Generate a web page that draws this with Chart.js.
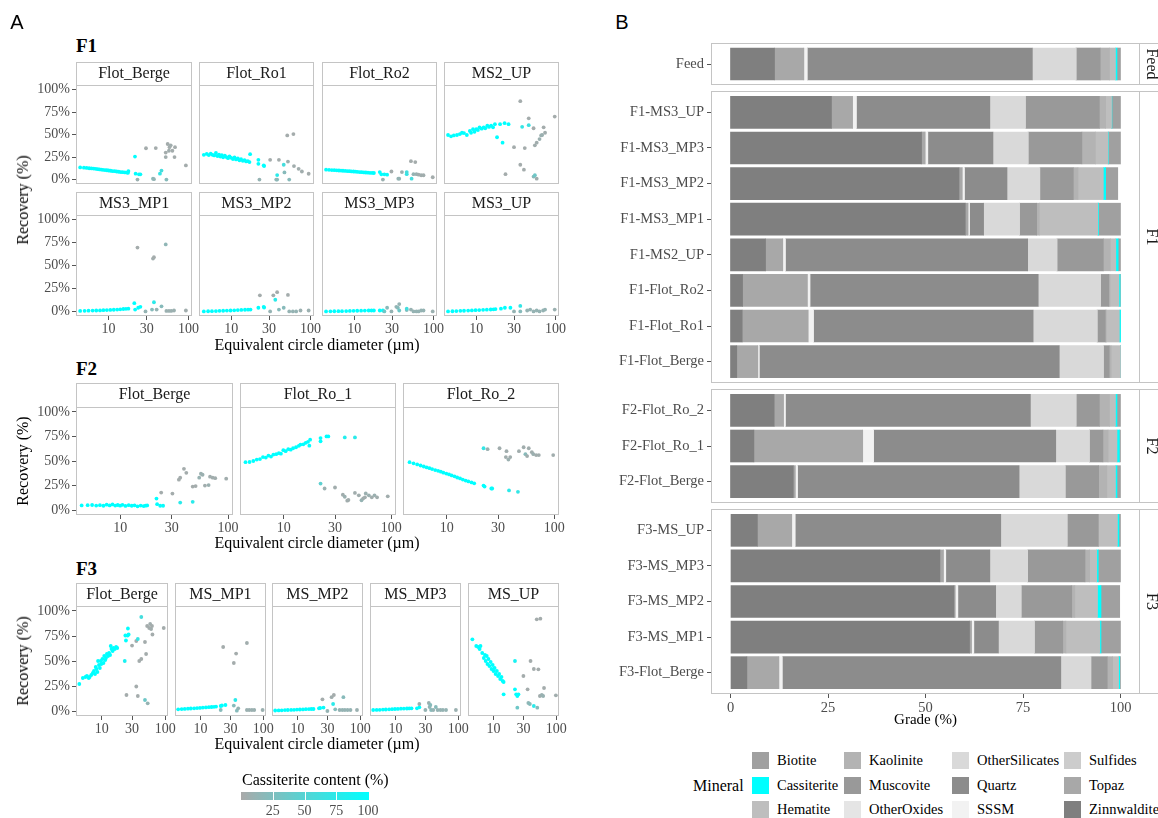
<!DOCTYPE html>
<html>
<head>
<meta charset="utf-8">
<script src="https://cdn.jsdelivr.net/npm/chart.js@4.4.1/dist/chart.umd.min.js"></script>
<style>
  body { margin: 0; background: #fff; width: 1158px; height: 818px; position: relative; overflow: hidden;
         font-family: 'Liberation Serif', 'Times New Roman', serif; }
  canvas { position: absolute; }
  .t { position: absolute; white-space: nowrap; line-height: 1; transform: translate(-50%, -50%); }
  .l { position: absolute; white-space: nowrap; line-height: 1; transform: translateY(-50%); }
  .sw { position: absolute; width: 17px; height: 17px; }
</style>
</head>
<body>
<script>
// ---- panel A data: [diameter um, recovery %, cassiterite content %] ----
var sizeTicks = [10, 30, 100];
var recoveryTicks = [0, 25, 50, 75, 100];
var contentTicks = [25, 50, 75, 100];

var f1FlotBerge = [[4.4,13.5,100],[4.9,13.2,100],[5.3,13,100],[5.7,12.6,100],[6.1,12.4,100],[6.5,12.2,100],[6.9,11.9,100],[7.3,11.6,100],[7.7,11.3,100],[8.1,11.1,100],[8.5,10.9,100],[9,10.6,100],[9.5,10.4,100],[10,10.1,100],[10.6,9.8,100],[11.2,9.5,100],[11.9,9.3,100],[12.6,9,100],[13.4,8.7,100],[14.2,8.4,100],[15,8.2,100],[16,8,100],[17,7.8,100],[17.7,9.5,100],[17.5,7.6,100],
  [21.4,25.6,100],[21.8,6.6,100],[24,5.9,95],[25,5.9,95],[23,0,8],[29.4,34.8,3],[39,35,3],[36,1,20],[37,0.5,12],[44,6.6,70],[46,10,60],[52,25,5],[52,30,3],[55,39.5,3],[58,36,3],[60,38,5],[63,32,3],[67,25,3],[68,36,3],[57,32,5],[53,0,20],[93,15.7,3]];
var f1FlotRo1 = [[4.5,27.5,100],[4.9,28.5,100],[5.2,27.2,100],[5.5,28.8,100],[5.8,27.5,100],[6.1,26.8,100],[6.4,29.5,100],[6.7,26.2,100],[7,27.6,100],[7.3,25.5,100],[7.6,27,100],[7.9,24.8,100],[8.3,26.6,100],[8.7,25,100],[9.1,23.8,100],[9.5,25.8,100],[10,24.2,100],[10.5,22.8,100],[11,24.6,100],[11.5,22.4,100],[12.1,23.4,100],[12.7,21.5,100],[13.3,22.6,100],[14,20.8,100],[14.7,21.6,100],[15.4,20.2,100],[16.2,20.6,100],[17,19.4,100],[17.3,28.2,100],
  [22,22,100],[22,17.5,100],[25.7,15.8,100],[26,15,100],[31,22,3],[22.7,0,12],[40,22,3],[38,0,20],[37,0,15],[38,5,75],[46,16.5,60],[51,49,3],[61,50.5,3],[47,8,20],[52,20,8],[54,0,20],[62,15,5],[71,12,5],[78,9,5],[95,6.5,3]];
var f1FlotRo2 = [[4.4,11,100],[4.8,10.8,100],[5.2,10.6,100],[5.6,10.5,100],[6,10.3,100],[6.4,10.1,100],[6.8,10,100],[7.2,9.8,100],[7.7,9.6,100],[8.2,9.5,100],[8.7,9.3,100],[9.2,9.1,100],[9.8,9,100],[10.4,8.8,100],[11,8.6,100],[11.7,8.4,100],[12.4,8.2,100],[13.2,8,100],[14,7.9,100],[14.9,7.7,100],[15.8,7.5,100],[16.8,7.4,100],[17.7,7.3,100],
  [21,8.4,100],[22,5.9,100],[24,5.9,95],[26,5.5,95],[23,0,8],[29.5,9,3],[36,1,12],[37,1,12],[40,8.4,8],[46,6,70],[46,8.4,60],[52,20.5,3],[59,19.4,3],[53,1,60],[56,6,12],[61,6,8],[65,5.5,5],[70,4.8,5],[75,4.8,5],[98,2.6,3]];
var f1Ms2Up = [[4.4,49.5,100],[4.8,48,100],[5.2,49,100],[5.7,49.5,100],[6.2,50.5,100],[6.6,52,100],[7,51.6,100],[7.6,49.5,100],[8.3,54,100],[8.6,52,100],[9.1,56,100],[9.5,53,100],[10,56,100],[10.5,55,100],[11,58,100],[11.7,56.5,100],[12.4,58,100],[13,57,100],[13.8,60,100],[14.5,58.5,100],[15.4,60,100],[16.3,58,100],[17.2,61.5,100],[18.3,47,100],[20,61.5,100],[21.5,41,100],[22.8,62.6,100],[25.6,61.5,100],
  [36,87,3],[38,58.6,70],[30,36,3],[41,35,3],[36,16.5,3],[40,11,3],[23.4,6,3],[46,68,3],[46,60.4,65],[53,57,3],[55,38,5],[58,41,5],[53,3.3,20],[55,4.8,35],[58,1,5],[63,45,8],[66,49,8],[68,49.5,8],[71,58,3],[74,52,5],[98,70,3]];
var f1Ms3Mp1 = [[4.4,0.5,100],[5,0.6,100],[5.6,0.8,100],[6.3,0.9,100],[7,1,100],[7.8,1.1,100],[8.6,1.3,100],[9.5,1.4,100],[10.5,1.6,100],[11.6,1.8,100],[12.8,2,100],[14,2.3,100],[15.3,2.6,100],[16.5,2.8,100],[17.7,3,100],
  [21,9,100],[21.5,2,100],[23.5,4,100],[25,5,100],[23,69.5,3],[36,57.5,5],[37,59,3],[37,10,75],[35,2,20],[29,0,12],[40,2,12],[46,5.5,20],[52,73,15],[53,0.5,8],[57,0.5,8],[61,0.5,8],[66,1,8],[93,1,5]];
var f1Ms3Mp2 = [[4.5,0,100],[5.1,0.2,100],[5.7,0.3,100],[6.4,0.4,100],[7.1,0.6,100],[7.9,0.7,100],[8.8,0.9,100],[9.8,1,100],[10.9,1.2,100],[12.1,1.4,100],[13.4,1.6,100],[14.9,1.8,100],[16.3,1.9,100],[17.5,2,100],
  [22,4,100],[25.7,5,100],[26,4.2,95],[23,17.5,3],[31,0,12],[34,17.5,5],[38,21,3],[36,12.7,75],[40,2,20],[46,4,20],[52,18,3],[54,0,12],[60,0,12],[66,0,12],[75,1,8],[95,1,8]];
var f1Ms3Mp3 = [[4.4,0,100],[5,0.1,100],[5.6,0.2,100],[6.3,0.3,100],[7,0.3,100],[7.9,0.4,100],[8.8,0.5,100],[9.8,0.6,100],[10.9,0.7,100],[12.2,0.8,100],[13.6,0.9,100],[15.2,1,100],[16.5,1,100],[17.7,1,100],
  [21,1,100],[23,1,95],[26,4,20],[24,0,35],[29.5,0,12],[34,5,12],[35.5,4,20],[37,1,35],[37,8,12],[46,1.5,20],[46,3,60],[52,2,10],[56,0,12],[61,0,12],[65,0,12],[70,1,12],[75,1,12],[98,0,8]];
var f1Ms3Up = [[4.4,0,100],[5,0.2,100],[5.6,0.4,100],[6.3,0.6,100],[7,0.7,100],[7.9,0.9,100],[8.8,1.1,100],[9.8,1.3,100],[10.9,1.5,100],[12.2,1.7,100],[13.6,1.9,100],[15.2,2.1,100],[16.5,2.3,100],[17.5,2.5,100],
  [20.5,3,100],[23,4,100],[27,4,100],[30,0,12],[36,6,70],[36,0,20],[44,1,12],[48,2,12],[53,0,12],[58,1,12],[63,0,12],[70,1,12],[74,2,12],[98,2,8]];

var f2FlotBerge = [[4.4,4.8,100],[5,5,100],[5.5,5.2,100],[6,4.6,100],[6.5,5,100],[7,4.4,100],[7.5,5.5,100],[8,4.8,100],[8.5,5.8,100],[9,4.6,100],[9.5,5.2,100],[10,4.5,100],[10.5,5.4,100],[11.2,4.2,100],[12,5,100],[12.8,4.4,100],[13.6,4.9,100],[14.5,3.8,100],[15.5,4.6,100],[16.5,4.1,100],[17.2,4.5,100],[17.8,4.8,100],
  [21.7,11.7,100],[22,6,100],[23.5,4.4,95],[25,4.4,95],[24,17.8,3],[30.5,16.8,3],[36,33,3],[35,31,3],[39,42,3],[41,38,3],[36,7.7,75],[47,8.4,75],[47,24,3],[50,24.5,3],[54,33,10],[56,37,8],[58,36,8],[61,25,5],[66,25.5,8],[68,34,5],[72,33,5],[76,32.5,5],[96,32,5]];
var f2FlotRo1 = [[4.4,48.8,100],[4.8,49,100],[5.2,50,100],[5.6,51.5,100],[6,52,100],[6.4,54,100],[6.8,53.5,100],[7.2,55.5,100],[7.6,54.5,100],[8,56.5,100],[8.5,57,100],[9,58,100],[9.4,57.5,100],[9.9,61,100],[10.4,60,100],[11,62,100],[11.6,61.5,100],[12.2,63,100],[13,64,100],[13.8,65.5,100],[14.3,66.7,100],[15.2,67,100],[16,68.5,100],[16.8,69.5,100],[17.6,71.7,100],[17.3,65.6,100],
  [22,73.4,100],[22,70,100],[25,75,100],[26,75,100],[37,74,80],[46,74,75],
  [22,27,45],[24,22,8],[30,23,5],[35.5,15.6,5],[37,13.6,8],[39,9.6,5],[40,10.3,5],[46,17.5,5],[50,15,5],[53,10,12],[55,12,5],[57,13,5],[58,17,8],[62,15,8],[66,13,5],[70,15,8],[74,13,5],[93,14,5]];
var f2FlotRo2 = [[4.5,48.8,100],[4.9,47.6,100],[5.3,46.5,100],[5.7,45.4,100],[6.1,44.4,100],[6.5,43.5,100],[6.9,42.7,100],[7.3,41.8,100],[7.8,40.8,100],[8.3,40,100],[8.8,39.1,100],[9.3,38.1,100],[9.9,37.2,100],[10.5,36.3,100],[11.1,35.3,100],[11.8,34.4,100],[12.5,33.2,100],[13.3,32.3,100],[14.1,31.1,100],[15,30.1,100],[15.9,29.2,100],[17,28.2,100],[18,27.3,100],
  [22,25,100],[22.5,24,100],[26,22,100],[26.5,22,95],[38,20,75],[46,18.6,70],
  [22,63,70],[24,62,8],[31,63,5],[36,60,5],[37.5,51.5,8],[39,54,5],[35.5,54,5],[47,60,5],[52,64,5],[54,57,20],[56,55,5],[58,63,5],[62,59,5],[64,57,8],[68,56,5],[72,56,5],[98,56,5]];

var f3FlotBerge = [[4.4,27,100],[5,33,100],[5.5,34,100],[5.8,35,100],[6.2,33,100],[6.4,34,100],[6.8,36,100],[7.2,38,100],[7.5,40,100],[7.8,37,100],[8,44,100],[8.2,42,100],[8.5,39,100],[8.7,50,100],[9,46,100],[9.3,43,100],[9.6,50,100],[9.8,47,100],[10.2,52,100],[10.6,48,100],[10.9,55,100],[11.3,51,100],[11.6,53,100],[12,57,100],[12.5,55,100],[13,58,100],[13.5,56,100],[13.8,65,100],[14.2,62,100],[14.8,60,100],[15.3,63,100],[16,62,100],[16.8,64,100],[17.5,63,100],
  [25.8,82.5,100],[23.5,75.5,100],[24,70.5,100],[23,50,85],[25.5,75.5,100],[26.5,76.5,100],
  [24.5,16,3],[30,65.4,3],[35,70,5],[37,72,70],[35,24.5,3],[37,15,3],[39,50,3],[42,52,3],[48,69,3],[50,57,3],[42,94,60],[48,11,35],[53,7.7,12],[52,85,3],[56,83,3],[58,87,5],[60,82,5],[62,85,3],[63,76.5,3],[95,83,3]];
var f3MsMp1 = [[4.4,1.7,100],[5,1.9,100],[5.6,2.1,100],[6.3,2.3,100],[7,2.5,100],[7.9,2.7,100],[8.8,2.9,100],[9.8,3.1,100],[10.9,3.4,100],[12.2,3.6,100],[13.6,3.8,100],[15,4,100],[16.4,4.2,100],[17.7,4.4,100],
  [21,5,100],[22,5.5,100],[25,6,100],[21,1,20],[23,64,3],[34,48,3],[37,57.4,3],[36,11,75],[34,5.4,20],[38,0.3,20],[40,2.7,12],[55,68,5],[55,1,8],[60,1,8],[66,1,8],[72,1,8],[98,1,8]];
var f3MsMp2 = [[4.4,0.5,100],[5,0.6,100],[5.6,0.7,100],[6.3,0.9,100],[7,1,100],[7.9,1.1,100],[8.8,1.2,100],[9.8,1.4,100],[10.9,1.5,100],[12.2,1.6,100],[13.6,1.8,100],[15.2,1.9,100],[16.6,2,100],[18,2,100],
  [22,2.7,100],[23,3,100],[26,3.4,95],[25,11.7,3],[30,0,12],[35,13.8,5],[38,16,3],[37,7,75],[40,1.7,20],[54,13.8,20],[47,1,12],[52,1,12],[57,1,12],[63,1,12],[70,1,12],[89,1,8]];
var f3MsMp3 = [[4.4,1,100],[5,1.1,100],[5.6,1.2,100],[6.3,1.4,100],[7,1.5,100],[7.9,1.7,100],[8.8,1.8,100],[9.8,2,100],[10.9,2.1,100],[12.2,2.3,100],[13.6,2.4,100],[15.2,2.5,100],[16.6,2.6,100],[18,2.7,100],
  [22,2.7,100],[24,3.7,100],[24,7,8],[30,1,12],[34,8,8],[35,4,12],[36,6,20],[37,1,20],[40,1,12],[44,4,20],[47,1,12],[52,1,12],[57,1,12],[64,1,12],[92,1,8]];
var f3MsUp = [[4.6,71.7,100],[5.3,65,100],[5.7,64,100],[6,62,100],[6.2,65,100],[6.6,58,100],[7,53,100],[7.3,56,100],[7.5,50,100],[7.8,55,100],[8,47,100],[8.3,52,100],[8.6,45,100],[9,49,100],[9.3,42,100],[9.7,46,100],[10,40,100],[10.4,43,100],[10.8,37,100],[11.3,40,100],[11.8,35,100],[12.3,37,100],[12.8,32,100],[13.4,34,100],[14,30,100],[14.5,29,100],[14.5,16.7,100],[22,21.7,100],[23,16.7,100],[24,15,100],[25,16.7,100],
  [22,50,85],[24,3.3,35],
  [30,35,3],[36,8,15],[38,7,20],[35,21.7,3],[39,50,3],[44,42,3],[44,5,75],[50,3.3,20],[52,41.7,3],[49,91.7,3],[56,92.3,3],[55,15,5],[59,16,8],[62,15,10],[64,23,3],[99,15.7,5]];

// ---- panel B data: grade (%) per sample ----
var samples = ['Feed', 'F1-MS3_UP', 'F1-MS3_MP3', 'F1-MS3_MP2', 'F1-MS3_MP1', 'F1-MS2_UP', 'F1-Flot_Ro2', 'F1-Flot_Ro1', 'F1-Flot_Berge',
  'F2-Flot_Ro_2', 'F2-Flot_Ro_1', 'F2-Flot_Berge', 'F3-MS_UP', 'F3-MS_MP3', 'F3-MS_MP2', 'F3-MS_MP1', 'F3-Flot_Berge'];
var gradeTicks = [0, 25, 50, 75, 100];
var zinnwaldite    = [11.3, 25.9, 49.0, 58.6, 60.2, 9.0, 3.1, 3.0, 1.6, 11.2, 6.0, 16.1, 6.9, 53.7, 57.3, 61.3, 4.2];
var topaz          = [7.5, 5.4, 0.9, 0.8, 0.7, 4.4, 16.6, 16.9, 5.4, 2.4, 27.9, 0.5, 8.8, 0.9, 0.3, 0.5, 8.2];
var sulfides       = [0, 0, 0, 0, 0, 0, 0, 0, 0, 0, 0, 0, 0, 0, 0, 0, 0];
var sssm           = [0.9, 1.0, 0.7, 0.6, 0.4, 0.7, 0.7, 1.4, 0.4, 0.5, 2.8, 0.6, 0.9, 0.6, 0.7, 0.6, 0.9];
var quartz         = [57.7, 34.2, 16.7, 10.9, 3.6, 62.1, 58.5, 56.3, 76.9, 62.8, 46.7, 56.8, 52.7, 11.3, 9.7, 6.3, 71.4];
var otherSilicates = [11.2, 9.1, 9.0, 8.4, 9.2, 7.5, 16.0, 16.4, 11.3, 11.7, 8.6, 11.8, 17.0, 9.7, 6.5, 9.2, 7.7];
var otherOxides    = [0, 0, 0, 0, 0, 0, 0, 0, 0, 0, 0, 0, 0, 0, 0, 0, 0];
var muscovite      = [6.2, 19.0, 13.8, 8.6, 4.4, 11.9, 2.1, 2.1, 1.5, 6.0, 3.5, 8.6, 8.0, 14.7, 13.0, 7.3, 4.2];
var kaolinite      = [2.4, 1.6, 3.5, 1.2, 0.7, 1.8, 0.3, 0.3, 0.5, 2.6, 1.3, 2.1, 0, 1.2, 0.8, 0.8, 1.4];
var hematite       = [1.5, 1.5, 3.2, 6.5, 15.0, 1.4, 2.3, 3.3, 2.4, 1.5, 2.3, 2.2, 4.9, 1.8, 5.8, 8.7, 1.5];
var cassiterite    = [0.4, 0.1, 0.1, 0.6, 0.2, 0.6, 0.3, 0.3, 0, 0.4, 0.6, 0.4, 0.4, 0.4, 0.9, 0.3, 0.3];
var biotite        = [0.9, 2.2, 3.1, 3.1, 5.6, 0.6, 0.1, 0, 0, 0.9, 0.3, 0.9, 0.4, 5.7, 4.8, 5.0, 0.2];

var SERIF = "'Liberation Serif', 'Times New Roman', serif";
var FRAME = '#c4c4c4', TICK = '#555555', TICKTXT = '#4d4d4d';
Chart.defaults.font.family = SERIF;

// legend order (alphabetical); bars stack in reverse of it
var minerals = [
  { name: 'Biotite', color: '#a0a0a0', values: biotite },
  { name: 'Cassiterite', color: '#00ffff', values: cassiterite },
  { name: 'Hematite', color: '#bebebe', values: hematite },
  { name: 'Kaolinite', color: '#b3b3b3', values: kaolinite },
  { name: 'Muscovite', color: '#999999', values: muscovite },
  { name: 'OtherOxides', color: '#e5e5e5', values: otherOxides },
  { name: 'OtherSilicates', color: '#d9d9d9', values: otherSilicates },
  { name: 'Quartz', color: '#8c8c8c', values: quartz },
  { name: 'SSSM', color: '#f2f2f2', values: sssm },
  { name: 'Sulfides', color: '#cccccc', values: sulfides },
  { name: 'Topaz', color: '#a8a8a8', values: topaz },
  { name: 'Zinnwaldite', color: '#7f7f7f', values: zinnwaldite }
];

function contentColor(c) {
  var t = Math.max(0, Math.min(1, c / 100));
  var r = Math.round(169 * (1 - t)), g = Math.round(169 + 86 * t);
  return 'rgb(' + r + ',' + g + ',' + g + ')';
}

function text(str, x, y, css, cls) {
  var d = document.createElement('div');
  d.className = cls || 't';
  d.textContent = str;
  d.style.left = x + 'px';
  d.style.top = y + 'px';
  d.style.cssText += ';' + (css || '');
  document.body.appendChild(d);
  return d;
}

// keep plot areas exactly where we put them (no room for overhanging labels)
function noPad(s) {
  s.paddingLeft = 0; s.paddingRight = 0; s.paddingTop = 0; s.paddingBottom = 0;
}

// panel frame + strip (top strip for A, right strip for B)
var framePlugin = {
  id: 'frame',
  afterDraw: function (chart, args, opts) {
    var a = chart.chartArea, ctx = chart.ctx;
    var l = Math.round(a.left) + 0.5, t = Math.round(a.top) + 0.5;
    var r = Math.round(a.right) - 0.5, b = Math.round(a.bottom) - 0.5;
    ctx.save();
    ctx.strokeStyle = FRAME;
    ctx.lineWidth = 1;
    ctx.strokeRect(l, t, r - l, b - t);
    if (opts.strip === 'top') {
      var sh = chart.titleBlock.height;
      ctx.strokeRect(l, t - sh, r - l, sh);
    } else if (opts.strip === 'right') {
      ctx.strokeRect(r, t, 24, b - t);
      ctx.fillStyle = '#1a1a1a';
      ctx.font = '16px ' + SERIF;
      ctx.textAlign = 'center';
      ctx.textBaseline = 'middle';
      ctx.translate(r + 11.5, (t + b) / 2);
      ctx.rotate(Math.PI / 2);
      ctx.fillText(opts.label, 0, 0);
    }
    ctx.restore();
  }
};

function scatterPanel(p) {
  var yW = p.first ? 60 : 0, padL = p.first ? 0 : 1, padR = 14, xH = p.axis ? 24 : 0;
  var cv = document.createElement('canvas');
  cv.width = p.w + yW + padL + padR;
  cv.height = 1 + p.strip + p.h + (p.axis ? xH : 1);
  cv.style.left = (p.x - yW - padL) + 'px';
  cv.style.top = (p.top - 1) + 'px';
  document.body.appendChild(cv);
  var tickGrid = { drawOnChartArea: false, drawTicks: true, tickLength: 4, color: TICK };
  return new Chart(cv, {
    type: 'scatter',
    data: {
      datasets: [{
        data: p.data.map(function (d) { return { x: d[0], y: d[1], c: d[2] }; }),
        pointRadius: 1.9, pointHoverRadius: 1.9, borderWidth: 0,
        backgroundColor: function (ctx) { return ctx.raw ? contentColor(ctx.raw.c) : '#a9a9a9'; }
      }]
    },
    options: {
      responsive: false, animation: false, devicePixelRatio: 1,
      layout: { padding: { top: 1, left: padL, right: padR, bottom: p.axis ? 0 : 1 } },
      plugins: {
        legend: { display: false }, tooltip: { enabled: false },
        title: { display: true, fullSize: false, text: p.name, color: '#1a1a1a',
          font: { size: 16, lineHeight: 1, weight: 'normal' },
          padding: { top: (p.strip - 16) / 2, bottom: (p.strip - 16) / 2 } },
        frame: { strip: 'top' }
      },
      scales: {
        x: {
          type: 'logarithmic', min: 3.9, max: 111, display: p.axis,
          afterBuildTicks: function (s) { s.ticks = sizeTicks.map(function (v) { return { value: v }; }); },
          afterFit: function (s) { s.height = xH; noPad(s); },
          grid: tickGrid, border: { display: false },
          ticks: { padding: 1, color: TICKTXT, font: { size: 14 }, maxRotation: 0, autoSkip: false,
            callback: function (v) { return String(v); } }
        },
        y: {
          min: -5, max: 105, display: p.first,
          afterBuildTicks: function (s) { s.ticks = recoveryTicks.map(function (v) { return { value: v }; }); },
          afterFit: function (s) { s.width = yW; noPad(s); },
          grid: tickGrid, border: { display: false },
          ticks: { padding: 2, color: TICKTXT, font: { size: 14 }, callback: function (v) { return v + '%'; } }
        }
      }
    },
    plugins: [framePlugin]
  });
}

// ---- panel A layout ----
var groups = [
  { title: 'F1', titleY: 46, xTitleY: 345, recY: 200, names: ['Flot_Berge', 'Flot_Ro1', 'Flot_Ro2', 'MS2_UP', 'MS3_MP1', 'MS3_MP2', 'MS3_MP3', 'MS3_UP'],
    data: [f1FlotBerge, f1FlotRo1, f1FlotRo2, f1Ms2Up, f1Ms3Mp1, f1Ms3Mp2, f1Ms3Mp3, f1Ms3Up],
    xs: [76, 198, 321, 443], w: 116, rows: [{ top: 62, strip: 23, h: 100 }, { top: 192, strip: 23, h: 101 }] },
  { title: 'F2', titleY: 369, xTitleY: 543, recY: 461, names: ['Flot_Berge', 'Flot_Ro_1', 'Flot_Ro_2'],
    data: [f2FlotBerge, f2FlotRo1, f2FlotRo2],
    xs: [76, 239, 402], w: 157, rows: [{ top: 383, strip: 24, h: 108 }] },
  { title: 'F3', titleY: 569, xTitleY: 744, recY: 661, names: ['Flot_Berge', 'MS_MP1', 'MS_MP2', 'MS_MP3', 'MS_UP'],
    data: [f3FlotBerge, f3MsMp1, f3MsMp2, f3MsMp3, f3MsUp],
    xs: [76, 174, 271, 369, 467], w: 92, rows: [{ top: 583, strip: 23, h: 110 }] }
];

groups.forEach(function (g) {
  var nc = g.xs.length;
  g.names.forEach(function (name, i) {
    var row = Math.floor(i / nc), col = i % nc, r = g.rows[row];
    scatterPanel({ name: name, data: g.data[i], x: g.xs[col], w: g.w, top: r.top, strip: r.strip, h: r.h,
      first: col === 0, axis: row === g.rows.length - 1 });
  });
  text(g.title, 76, g.titleY, "font: bold 19px " + SERIF + "; color:#000;", 'l');
  text('Equivalent circle diameter (\u00b5m)', 317, g.xTitleY, 'font-size:16px; color:#000;');
  text('Recovery (%)', 23, g.recY, 'font-size:16px; color:#000; transform: translate(-50%,-50%) rotate(-90deg);');
});

// colour bar legend for panel A
text('Cassiterite content (%)', 242, 780, 'font-size:16px; color:#000;', 'l');
var bar = document.createElement('div');
bar.style.cssText = 'position:absolute; left:241px; top:792px; width:128px; height:8px; background: linear-gradient(to right, #a9a9a9, #00ffff);';
document.body.appendChild(bar);
contentTicks.forEach(function (v) {
  var x = 241 + v * 1.27;
  if (v < 100) {
    var tk = document.createElement('div');
    tk.style.cssText = 'position:absolute; top:792px; height:8px; width:1px; background:#fff; left:' + Math.round(x) + 'px;';
    document.body.appendChild(tk);
  }
  text(String(v), x, 811, 'font-size:14px; color:' + TICKTXT + ';');
});

text('A', 17, 22, "font: 20px 'Liberation Sans', Arial, sans-serif; color:#000;");
text('B', 622, 22, "font: 20px 'Liberation Sans', Arial, sans-serif; color:#000;");

// ---- panel B: stacked grade bars, one chart per facet ----
var facets = [
  { label: 'Feed', from: 0, to: 1, top: 43, h: 42 },
  { label: 'F1', from: 1, to: 9, top: 91, h: 292 },
  { label: 'F2', from: 9, to: 12, top: 389, h: 114 },
  { label: 'F3', from: 12, to: 17, top: 509, h: 185, axis: true }
];

function barPanel(f) {
  var labels = samples.slice(f.from, f.to), n = labels.length;
  var xH = f.axis ? 34 : 0;
  var cv = document.createElement('canvas');
  cv.width = 558;
  cv.height = 1 + f.h + (f.axis ? xH : 1);
  cv.style.left = '600px';
  cv.style.top = (f.top - 1) + 'px';
  document.body.appendChild(cv);
  var stackOrder = minerals.slice().reverse();
  var tickGrid = { drawOnChartArea: false, drawTicks: true, tickLength: 4, color: TICK };
  return new Chart(cv, {
    type: 'bar',
    data: {
      datasets: stackOrder.map(function (m) {
        return {
          label: m.name,
          data: m.values.slice(f.from, f.to).map(function (v, i) { return { x: v, y: i }; }),
          backgroundColor: m.color, borderWidth: 0, barThickness: 32
        };
      })
    },
    options: {
      indexAxis: 'y', responsive: false, animation: false, devicePixelRatio: 1,
      layout: { padding: { top: 1, left: 0, right: 18, bottom: f.axis ? 0 : 1 } },
      plugins: { legend: { display: false }, tooltip: { enabled: false }, frame: { strip: 'right', label: f.label } },
      scales: {
        y: {
          type: 'linear', min: -0.6, max: n - 0.4, reverse: true, stacked: true, offset: false,
          afterBuildTicks: function (s) { s.ticks = labels.map(function (l, i) { return { value: i }; }); },
          afterFit: function (s) { s.width = 111; noPad(s); },
          grid: { offset: false, drawOnChartArea: false, drawTicks: true, tickLength: 4, color: TICK },
          border: { display: false },
          ticks: { padding: 3, color: TICKTXT, font: { size: 14.5 }, autoSkip: false,
            callback: function (v) { return labels[v]; } }
        },
        x: {
          min: -5, max: 105, stacked: true, display: !!f.axis,
          afterBuildTicks: function (s) { s.ticks = gradeTicks.map(function (v) { return { value: v }; }); },
          afterFit: function (s) { s.height = xH; noPad(s); },
          grid: tickGrid, border: { display: false },
          title: { display: true, text: 'Grade (%)', color: '#000', font: { size: 15, lineHeight: 1 }, padding: { top: 0, bottom: 0 } },
          ticks: { padding: 1, color: TICKTXT, font: { size: 14.5 }, maxRotation: 0 }
        }
      }
    },
    plugins: [framePlugin]
  });
}
facets.forEach(barPanel);

// legend for panel B (3 rows, filled column by column)
text('Mineral', 693, 786, 'font-size:16px; color:#000;', 'l');
var legCols = [752, 844, 952, 1064], legRows = [760, 785, 809];
minerals.forEach(function (m, i) {
  var cx = legCols[Math.floor(i / 3)], cy = legRows[i % 3];
  var sw = document.createElement('div');
  sw.className = 'sw';
  sw.style.left = cx + 'px';
  sw.style.top = (cy - 8.5) + 'px';
  sw.style.background = m.color;
  document.body.appendChild(sw);
  text(m.name, cx + 25, cy, 'font-size:14.5px; color:#000;', 'l');
});
</script>
</body>
</html>
